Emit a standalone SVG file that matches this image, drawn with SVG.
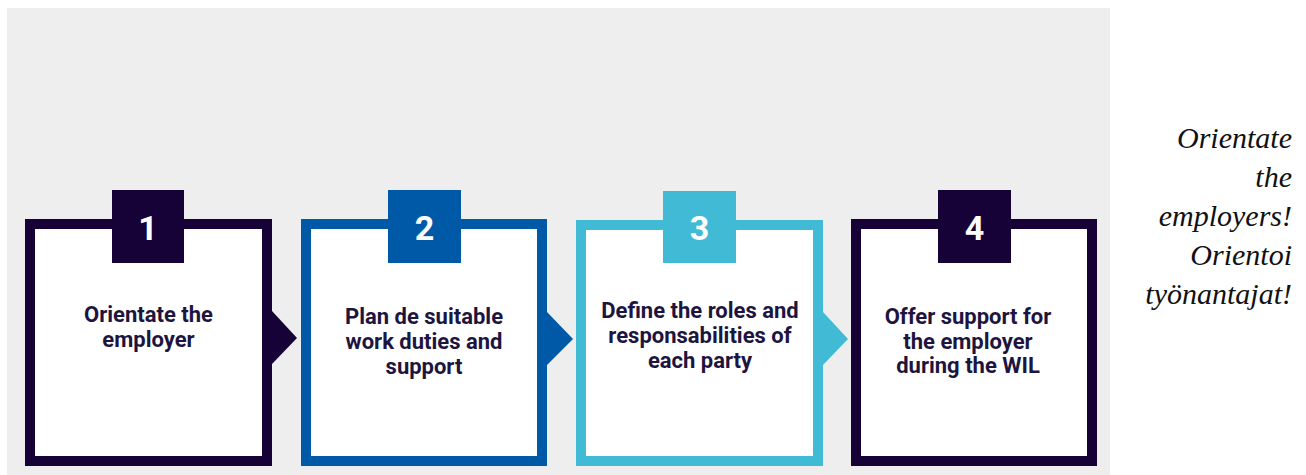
<svg xmlns="http://www.w3.org/2000/svg" width="1306" height="475" viewBox="0 0 1306 475">
<style>
.frame{fill:#ffffff;stroke-width:10}
.lbl{font-family:Roboto,"Liberation Sans",sans-serif;font-weight:700;font-size:22px;fill:#1d1540;text-anchor:middle}
.num{font-family:Roboto,"Liberation Sans",sans-serif;font-weight:700;font-size:34px;fill:#ffffff;text-anchor:middle}
.side{font-family:"Liberation Serif","Times New Roman",serif;font-style:italic;font-size:30px;fill:#111111;text-anchor:end}
</style>
<rect x="0" y="0" width="1306" height="475" fill="#ffffff"/>
<rect x="7" y="8" width="1103" height="467" fill="#eeeeee"/>
<g id="connectors">
<polygon points="272,311 297,338 272,364" fill="#160236"/>
<polygon points="547,312 573,339 547,365" fill="#0059a6"/>
<polygon points="823,312 848,339 823,365" fill="#40bad5"/>
</g>
<g id="step1">
<rect class="frame" x="30" y="224" width="237" height="237" stroke="#160236"/>
<rect x="112" y="190" width="72" height="73" fill="#160236"/>
<text class="num" x="148" y="240">1</text>
<text class="lbl" x="148.5" y="322">Orientate the</text>
<text class="lbl" x="148.5" y="347">employer</text>
</g>
<g id="step2">
<rect class="frame" x="306" y="224" width="236" height="237" stroke="#0059a6"/>
<rect x="388" y="190" width="73" height="73" fill="#0059a6"/>
<text class="num" x="424.5" y="240">2</text>
<text class="lbl" x="424" y="324">Plan de suitable</text>
<text class="lbl" x="424" y="349">work duties and</text>
<text class="lbl" x="424" y="374">support</text>
</g>
<g id="step3">
<rect class="frame" x="581" y="225" width="237" height="236" stroke="#40bad5"/>
<rect x="663" y="191" width="73" height="72" fill="#40bad5"/>
<text class="num" x="699.5" y="240">3</text>
<text class="lbl" x="700" y="318">Define the roles and</text>
<text class="lbl" x="700" y="343">responsabilities of</text>
<text class="lbl" x="700" y="368">each party</text>
</g>
<g id="step4">
<rect class="frame" x="856" y="224" width="236" height="237" stroke="#160236"/>
<rect x="938" y="190" width="73" height="73" fill="#160236"/>
<text class="num" x="974.5" y="240">4</text>
<text class="lbl" x="968" y="324">Offer support for</text>
<text class="lbl" x="968" y="349">the employer</text>
<text class="lbl" x="968" y="373">during the WIL</text>
</g>
<g id="side-note">
<text class="side" x="1292" y="148">Orientate</text>
<text class="side" x="1292" y="187">the</text>
<text class="side" x="1292" y="226">employers!</text>
<text class="side" x="1292" y="265">Orientoi</text>
<text class="side" x="1292" y="304">työnantajat!</text>
</g>
</svg>
